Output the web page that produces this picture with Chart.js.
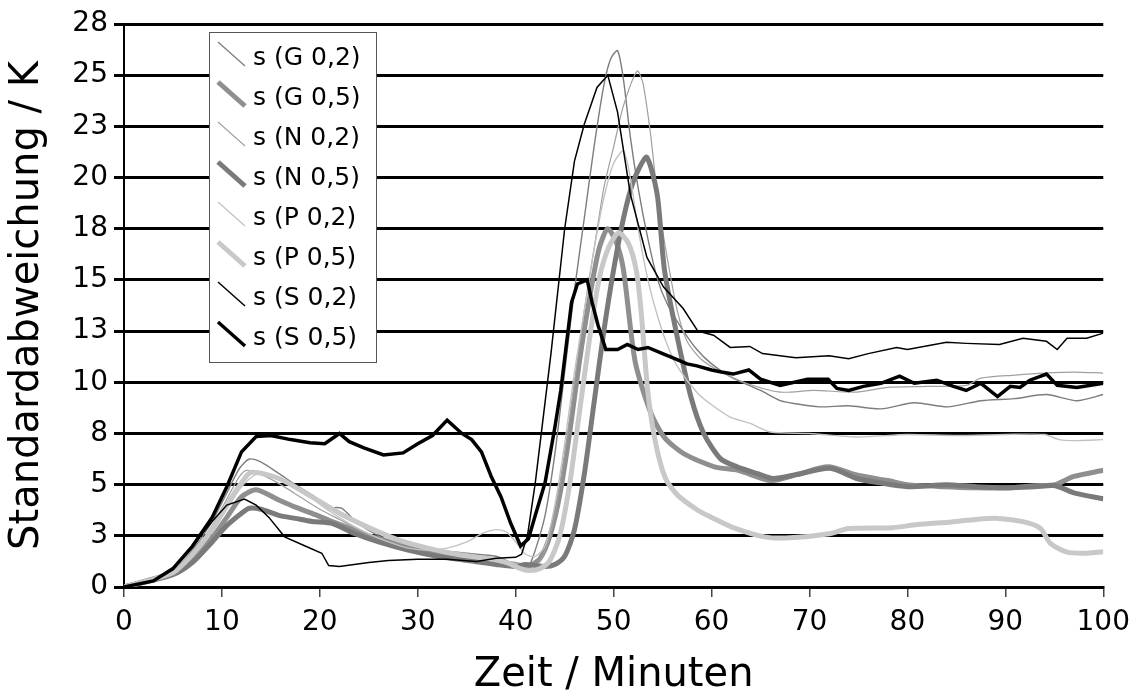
<!DOCTYPE html>
<html>
<head>
<meta charset="utf-8">
<script src="https://cdn.jsdelivr.net/npm/chart.js@4/dist/chart.umd.min.js"></script>
<style>
  html, body { margin: 0; padding: 0; background: #fff; }
  #wrap { width: 1139px; height: 693px; }
</style>
</head>
<body>
<div id="wrap"><canvas id="chart"></canvas></div>
<script>
// Zeit (Minuten) und Standardabweichung (K) je Messreihe
const tG02 = [0,5,7,9,10.5,11.8,12.8,14,15.8,17.5,19.2,20.9,22.2,23.9,26,28,30,32,34,36,38,39.5,40.5,41.3,42,43,44,45,46,47,48,49,49.7,50.4,51,51.7,52.5,53.5,54.5,55.5,57,58.5,60,62,65,67,68.6,71,74,77.3,80.7,84.1,87.5,90.9,94.2,97.3,100];
const vG02 = [0,0.8,1.8,3.2,4.6,5.8,6.25,6.1,5.55,5.0,4.5,3.9,3.85,3.1,2.5,2.15,1.95,1.8,1.7,1.6,1.5,1.2,1.0,1.0,1.8,3.5,6.5,10.5,14.5,18,21.5,24.5,25.8,26.2,24.8,22,19.5,17,15,13.8,12.6,11.6,10.9,10.25,9.6,9.1,8.95,8.8,8.85,8.7,9.0,8.8,9.1,9.2,9.4,9.1,9.4];

const tG05 = [0,5,7,9,10.5,12,13.5,15.8,17.5,19.2,21,22.6,25,28,31,34,37,39,40.5,41.5,42.5,43.5,44.5,45.5,46.5,47.5,48.5,49.4,50.3,51,52.2,53.8,55.2,57.2,60.3,62.7,66.1,68.8,71.9,74.9,78,80,83.7,87,90.8,93,95.1,97,100];
const vG05 = [0,0.7,1.4,2.4,3.4,4.4,4.75,4.25,3.9,3.6,3.25,2.95,2.5,2.1,1.8,1.5,1.3,1.1,1.0,1.05,1.4,2.5,4.5,7.5,11,14,16.5,17.5,16.8,15.5,11,8.5,7.3,6.5,5.87,5.7,5.2,5.5,5.87,5.46,5.2,5.0,4.9,4.85,4.85,4.95,5.0,5.4,5.7];

const tN02 = [0,5,7,9,10.5,11.8,12.5,14,16,18,20,22,24,26,28,30,32,34,36,38,40,42,43,44,45,46,47,48,49,50,51,52.4,53,53.8,54.5,55.5,56.5,57.5,59,61,63.7,67,70.4,74.8,78,82,86,87.5,91,94,97,100];
const vN02 = [0,0.8,1.7,3.0,4.3,5.4,5.7,5.5,5.0,4.4,3.8,3.3,2.8,2.4,2.0,1.75,1.6,1.5,1.4,1.3,1.2,1.0,1.8,3.5,6.5,10,13.5,16.5,19.5,21.5,23.5,25.2,24.6,22,19,16,13.5,12,11.1,10.5,9.93,9.52,9.6,9.52,9.75,9.8,9.85,10.2,10.35,10.45,10.5,10.45];

const tN05 = [0,5,7,9,10.5,12,12.8,14,15.8,17.5,19.2,21.3,23.6,26,29,32,35,38,40,41,43,44,45,46,47,48,49,50,51,52,53.3,53.8,54.5,55.2,56.5,57.9,59.2,60.9,62.6,64.6,66.3,68.7,72.1,74.8,77,80,84,87,90,93,95.1,97,100];
const vN05 = [0,0.6,1.2,2.2,3.0,3.6,3.85,3.8,3.5,3.35,3.2,3.1,2.6,2.2,1.8,1.5,1.3,1.1,1.0,1.1,1.0,1.1,1.5,2.8,5.5,9,12.5,15.5,18,19.8,21,20.5,19,15.45,12.2,9.27,7.5,6.27,5.87,5.55,5.3,5.5,5.8,5.3,5.1,4.9,5.0,4.9,4.85,4.9,4.95,4.6,4.3];

const tP02 = [0,5,7,9,10.5,12,13.5,15,17,19,21,23,25,27,29,31,33,35,36.5,38,39,40,41,42,43,44,45,46,47,48,49,50,51,51.7,52.5,53.5,54.5,55.5,56.6,58.6,60,61.9,63.9,66,70,74.8,80,85,90,94,95.5,97,100];
const vP02 = [0,0.7,1.5,2.7,3.8,4.9,5.5,5.4,5.0,4.4,3.7,3.1,2.6,2.2,1.9,1.8,1.9,2.2,2.6,2.8,2.7,2.2,1.6,1.5,2.0,4,7,10.5,13.5,16.5,19,20.7,21.3,20,17.5,15,13.2,11.8,10.7,9.45,8.9,8.3,8.0,7.57,7.5,7.33,7.45,7.4,7.45,7.45,7.2,7.15,7.2];

const tP05 = [0,5,7,9,10.5,12,13,15.8,19.2,22,25,28,31,34,37,39,40.5,41.5,42.5,43.5,44.5,45.5,46.5,47.5,48.5,49.5,50.5,51.5,52.3,52.8,53.5,54.3,55.3,56.5,58.6,60,62,65.4,68,72,74,78.5,81,84.5,87,89.2,91.9,93.6,94.6,96.3,98,100];
const vP05 = [0,0.7,1.6,2.8,4.0,5.1,5.6,5.3,4.4,3.6,2.9,2.3,1.9,1.6,1.4,1.2,0.9,0.8,0.9,1.3,2.5,5,8.5,12,15,16.6,17.3,16.8,15.5,13.5,9.5,7,5.3,4.5,3.75,3.4,2.94,2.45,2.4,2.6,2.86,2.9,3.05,3.18,3.3,3.35,3.18,2.86,2.13,1.7,1.65,1.72];

const tS02 = [0,3,5,7,9,10.5,12.3,13.5,14.8,16.4,18.5,20.2,20.9,22,25,27,30,33,36,38,40,40.6,41.2,42,43.6,45,46,47,48.3,49.4,50.4,51.7,53.4,55.1,57.1,58.6,60.2,61.9,63.9,65.2,68.6,72,74,76,78.9,80,84,86,89.4,91.8,94.2,95.3,96.3,98.3,100];
const vS02 = [0,0.3,0.9,2.0,3.2,4.0,4.3,4.0,3.4,2.45,2.0,1.65,1.05,1.0,1.2,1.3,1.35,1.35,1.25,1.4,1.45,1.6,2.5,5.1,11.4,17.5,20.8,22.6,24.4,25.0,23.2,19.2,16.1,14.65,13.6,12.5,12.3,11.7,11.75,11.4,11.2,11.3,11.15,11.4,11.7,11.6,11.95,11.9,11.85,12.15,12.0,11.6,12.15,12.15,12.4];

const tS05 = [0,3,5,7,9,10.5,12,13.5,15,17,19,20.5,22,23,24.5,26.5,28.5,30,31.5,33,34.5,35.5,36.5,37.5,38.5,39.5,40.5,41.3,42,43,44,44.6,45.7,46.3,47.3,47.8,48.4,49.2,50.4,51.4,52.5,53.5,55,56,57.5,58.5,60,61,62.2,63.8,65,67,69.8,71.9,72.8,74,75.5,77.3,79.2,80.7,83,84.7,86,87.5,89.2,90.5,91.5,92.5,94.2,95.3,97.3,100];
const vS05 = [0,0.3,0.9,2.0,3.4,4.9,6.6,7.35,7.4,7.2,7.05,7.0,7.5,7.1,6.8,6.45,6.55,7.0,7.4,8.15,7.5,7.2,6.6,5.4,4.4,3.1,2.0,2.35,3.5,5.1,7.8,9.6,13.9,14.8,15.0,13.9,12.8,11.6,11.6,11.85,11.6,11.7,11.4,11.2,10.9,10.8,10.6,10.5,10.4,10.6,10.15,9.85,10.15,10.15,9.7,9.6,9.8,9.95,10.3,9.95,10.1,9.8,9.6,9.95,9.3,9.8,9.75,10.1,10.4,9.85,9.75,9.95];

const seriesLabels = ['s (G 0,2)', 's (G 0,5)', 's (N 0,2)', 's (N 0,5)', 's (P 0,2)', 's (P 0,5)', 's (S 0,2)', 's (S 0,5)'];
const seriesTimes = [tG02, tG05, tN02, tN05, tP02, tP05, tS02, tS05];
const seriesValues = [vG02, vG05, vN02, vN05, vP02, vP05, vS02, vS05];

// Stil je Reihe (duenn/dick, Grauton)
const lineColors = ['#7d7d7d', '#8f8f8f', '#a0a0a0', '#7a7a7a', '#c2c2c2', '#c8c8c8', '#000000', '#000000'];
const lineWidths = [1.4, 5, 1.2, 5, 1.4, 5, 1.5, 3.5];
const lineTension = [0.25, 0.25, 0.25, 0.25, 0.25, 0.25, 0, 0];

const FONT = 'DejaVu Sans';
Chart.defaults.font.family = FONT;
Chart.defaults.color = '#000';

// Legende als Kasten im Diagramm
const boxLegend = {
    id: 'boxLegend',
    afterDraw(chart) {
        const ctx = chart.ctx;
        const area = chart.chartArea;
        const left = area.left + 85;
        const top = area.top + 8;
        const w = 167, h = 330;
        ctx.save();
        ctx.fillStyle = '#fff';
        ctx.fillRect(left, top, w, h);
        ctx.strokeStyle = '#555';
        ctx.lineWidth = 1;
        ctx.strokeRect(left + 0.5, top + 0.5, w, h);
        ctx.font = '25px "' + FONT + '"';
        ctx.textBaseline = 'alphabetic';
        chart.data.datasets.forEach((ds, i) => {
            const base = top + 33 + 40 * i;
            ctx.strokeStyle = ds.borderColor;
            ctx.lineWidth = ds.borderWidth;
            ctx.beginPath();
            ctx.moveTo(left + 9, base - 23);
            ctx.lineTo(left + 36, base + 1);
            ctx.stroke();
            ctx.fillStyle = '#000';
            ctx.fillText(ds.label, left + 44, base);
        });
        ctx.restore();
    }
};

const datasets = seriesLabels.map((label, i) => ({
    label: label,
    data: seriesTimes[i].map((t, k) => ({ x: t, y: seriesValues[i][k] })),
    borderColor: lineColors[i],
    backgroundColor: lineColors[i],
    borderWidth: lineWidths[i],
    tension: lineTension[i],
    pointRadius: 0,
    fill: false,
    order: seriesLabels.length - i
}));

new Chart(document.getElementById('chart'), {
    type: 'line',
    data: { datasets: datasets },
    options: {
        responsive: true,
        maintainAspectRatio: false,
        animation: false,
        layout: { padding: { left: 0, right: 32, top: 24, bottom: 0 } },
        plugins: {
            legend: { display: false },
            tooltip: { enabled: false }
        },
        scales: {
            x: {
                type: 'linear',
                min: 0,
                max: 100,
                ticks: { stepSize: 10, font: { size: 28 }, padding: 9, maxRotation: 0 },
                grid: { drawOnChartArea: false, drawTicks: true, tickLength: 10, color: '#444', lineWidth: 1.5 },
                border: { display: true, color: '#000', width: 3 },
                title: { display: true, text: 'Zeit / Minuten', font: { size: 40 }, padding: { top: 0, bottom: -7 } },
                afterFit(scale) { scale.height = 106; }
            },
            y: {
                min: 0,
                max: 27.5,
                ticks: { stepSize: 2.5, font: { size: 28 }, padding: 6, callback: v => Math.round(v) },
                grid: { color: '#000', lineWidth: 3, tickLength: 10, drawTicks: true },
                border: { display: true, color: '#000', width: 2 },
                title: { display: true, text: 'Standardabweichung / K', font: { size: 40 }, padding: { top: 4, bottom: 0 } },
                afterFit(scale) { scale.width = 124; }
            }
        }
    },
    plugins: [boxLegend]
});
</script>
</body>
</html>
